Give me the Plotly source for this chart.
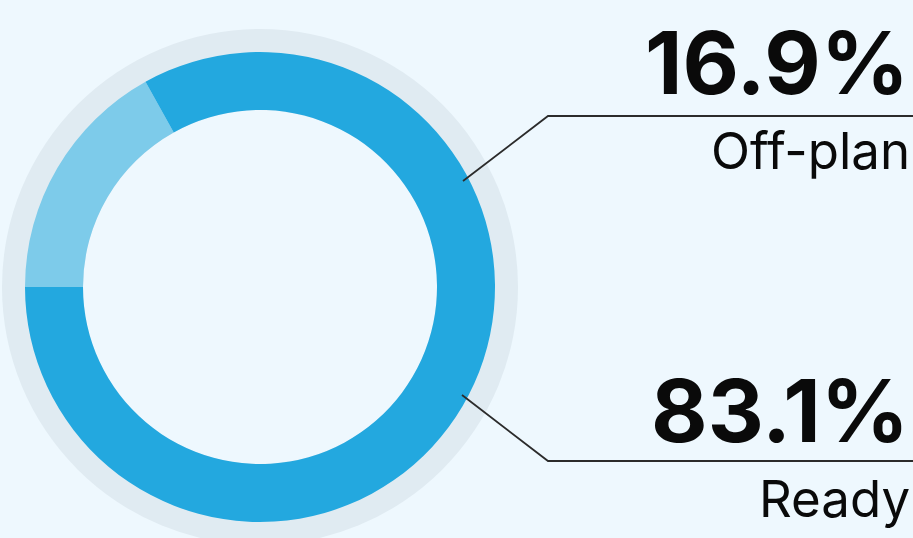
import plotly.graph_objects as go

labels = ["Off-plan", "Ready"]
values = [16.9, 83.1]
colors = ["#7dcbea", "#23a8df"]

W, H = 913, 538
BG = "#eef8fe"

def px(x):
    return x / W

def py(y):
    return (H - y) / H

cx, cy = 260, 287
r_out, r_in, r_ring = 235, 177, 258

fig = go.Figure()
fig.add_trace(go.Pie(
    labels=labels, values=values, sort=False, direction="clockwise",
    rotation=270, hole=r_in / r_out,
    marker=dict(colors=colors, line=dict(width=0)),
    textinfo="none", hoverinfo="skip", showlegend=False,
    domain=dict(x=[px(cx - r_out), px(cx + r_out)], y=[py(cy + r_out), py(cy - r_out)]),
))

shapes = [
    dict(type="circle", xref="paper", yref="paper", layer="below",
         x0=px(cx - r_ring), x1=px(cx + r_ring), y0=py(cy + r_ring), y1=py(cy - r_ring),
         fillcolor="#e0ebf2", line=dict(width=0)),
    dict(type="circle", xref="paper", yref="paper", layer="below",
         x0=px(cx - r_in), x1=px(cx + r_in), y0=py(cy + r_in), y1=py(cy - r_in),
         fillcolor=BG, line=dict(width=0)),
    dict(type="path", xref="paper", yref="paper",
         path=f"M {px(463)},{py(181)} L {px(548)},{py(116)} L {px(913)},{py(116)}",
         line=dict(color="#2b2b2b", width=1.8)),
    dict(type="path", xref="paper", yref="paper",
         path=f"M {px(462)},{py(395)} L {px(548)},{py(461)} L {px(913)},{py(461)}",
         line=dict(color="#2b2b2b", width=1.8)),
]

annotations = []
pct_y = [63, 410]
lab_y = [151, 498]
for i, (lab, v) in enumerate(zip(labels, values)):
    annotations.append(dict(
        text=f"<b>{v:.1f}%</b>", x=px(911), y=py(pct_y[i]), xref="paper", yref="paper",
        xanchor="right", yanchor="middle", showarrow=False,
        font=dict(family="Inter", size=87, color="#0a0a0a")))
    annotations.append(dict(
        text=lab, x=px(912), y=py(lab_y[i]), xref="paper", yref="paper",
        xanchor="right", yanchor="middle", showarrow=False,
        font=dict(family="Inter", size=51, color="#0a0a0a")))

fig.update_layout(
    width=W, height=H, margin=dict(l=0, r=0, t=0, b=0),
    paper_bgcolor=BG, plot_bgcolor=BG,
    shapes=shapes, annotations=annotations,
)

fig.write_html(
    "out.html",
    config={"displayModeBar": False},
    post_script=f"document.body.style.margin='0';document.body.style.background='{BG}';document.body.style.overflow='hidden';",
)
